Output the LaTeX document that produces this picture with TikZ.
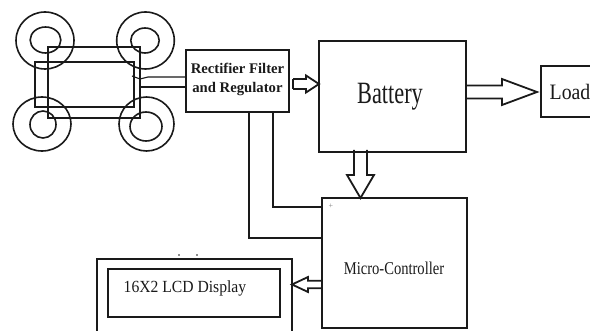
\documentclass[tikz,border=0pt]{standalone}
\usepackage{graphicx}
\usepackage{fontspec}
\setmainfont{Liberation Serif}
\usetikzlibrary{calc}
\definecolor{ink}{HTML}{1A1A1A}
\tikzset{
  ln/.style={draw=ink,line width=1.8pt,line join=miter},
  blockbox/.style={ln,rectangle,inner sep=0pt,outer sep=0pt,minimum width=#1},
  txt/.style={text=ink,inner sep=0pt,outer sep=0pt,align=center},
  ring/.style={draw=ink,line width=1.6pt},
  wire/.style={draw=ink,line width=1.8pt},
}
% block arrow from #1 to #2: half shaft #3, half head #4, head length #5
\newcommand{\blockarrow}[5]{%
  \coordinate (hb) at ($(#2)!#5!(#1)$);
  \draw[ln] ($(#1)!#3!90:(#2)$) -- ($(hb)!#3!90:(#2)$) -- ($(hb)!#4!90:(#2)$) -- (#2)
    -- ($(hb)!#4!-90:(#2)$) -- ($(hb)!#3!-90:(#2)$) -- ($(#1)!#3!-90:(#2)$);
}
\begin{document}
\begin{tikzpicture}[x=1pt,y=-1pt]
\useasboundingbox (0,0) rectangle (590,331);
\fill[white] (0,0) rectangle (590,331);
\clip (0,0) rectangle (590,331);
% coil rings
\draw[ring] (45,40.5) ellipse (29pt and 28.5pt);
\draw[ring] (45.5,40) ellipse (15.3pt and 13pt);
\draw[ring] (145.5,40.5) ellipse (28.8pt and 28.5pt);
\draw[ring] (145,40.5) ellipse (14.2pt and 12.5pt);
\draw[ring] (42,124) ellipse (29pt and 27pt);
\draw[ring] (43,124.5) ellipse (13pt and 13.5pt);
\draw[ring] (146.5,124) ellipse (27.5pt and 27pt);
\draw[ring] (146,126.5) ellipse (16pt and 14.5pt);
% frames
\node[blockbox=92pt,minimum height=71pt] (frameA) at (94,82.5) {};
\node[blockbox=99pt,minimum height=45pt] (frameB) at (84.5,84.5) {};
% blocks
\node[blockbox=103pt,minimum height=62pt,txt,font=\bfseries\fontsize{14.7}{18.5}\selectfont] (rect) at (237.5,81) {};
\node[txt,font=\bfseries\fontsize{14.7}{18.5}\selectfont] (recttxt) at (237.5,79.5) {Rectifier Filter\\and Regulator};
\node[blockbox=147pt,minimum height=111pt] (batt) at (392.5,96.5) {};
\node[txt] (batttxt) at (390,97) {\scalebox{.72}[1]{\fontsize{31}{31}\selectfont Battery}};
\node[blockbox=58pt,minimum height=51pt,txt] (load) at (570,91.5) {\scalebox{.9}[1]{\fontsize{22}{22}\selectfont Load}};
\node[blockbox=145pt,minimum height=130pt] (mc) at (394.5,263) {};
\node[txt] (mctxt) at (394,268) {\scalebox{.81}[1]{\fontsize{18}{18}\selectfont Micro-Controller}};
\node[blockbox=195pt,minimum height=90pt] (lcd) at (194.5,304) {};
\node[blockbox=172pt,minimum height=48pt] (lcdin) at (194,293) {};
\node[txt] (lcdtxt) at (185,288) {\scalebox{.92}[1]{\fontsize{17}{17}\selectfont 16X2 LCD Display}};
% wires
\coordinate (w1) at (132,76);
\draw[wire,line width=1.1pt] (w1) -- (140,79) -- (148,77) -- (153,77) -- (rect.west |- 0,77);
\draw[wire] (frameA.east |- 0,87) -- (rect.west |- 0,87);
\draw[wire] (rect.south -| 273,0) |- (mc.west |- 0,207);
\draw[wire] (rect.south -| 249,0) |- (mc.west |- 0,238);
% block arrows
\coordinate (a1s) at (293,84); \coordinate (a1t) at (batt.west |- 0,84);
\blockarrow{a1s}{a1t}{5pt}{8.5pt}{13pt}
\draw[ln] ($(a1s)+(0,-5)$) -- ($(a1s)+(0,5)$);
\coordinate (a2s) at (batt.east |- 0,92); \coordinate (a2t) at (537,92);
\blockarrow{a2s}{a2t}{6.5pt}{13pt}{35pt}
\coordinate (a3s) at (360.5,150); \coordinate (a3t) at (360.5,198);
\blockarrow{a3s}{a3t}{6.5pt}{13.5pt}{23pt}
\coordinate (a4s) at (mc.west |- 0,284.5); \coordinate (a4t) at (lcd.east |- 0,284.5);
\blockarrow{a4s}{a4t}{3.7pt}{7.5pt}{16pt}
% specks
\node[txt,text=gray,font=\fontsize{8}{8}\selectfont] (plus) at (331,206) {+};
\fill[ink] (179,255) circle (.8pt) (197,255) circle (.8pt);
\end{tikzpicture}
\end{document}
